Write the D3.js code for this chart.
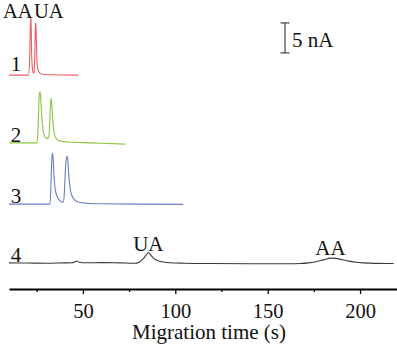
<!DOCTYPE html>
<html><head><meta charset="utf-8">
<script src="https://cdn.jsdelivr.net/npm/d3@7"></script>
<style>html,body{margin:0;padding:0;background:#fff}svg{display:block}</style>
</head><body>
<script>
// ---- data (time in s, current in nA relative to each trace's baseline) ----
const trace1 = [[10,0],[20.5,0],[21.2,3],[21.6,8.5],[21.8,9.8],[22.0,8],[22.3,3],[22.8,0.8],[23.2,0.3],[23.6,0.5],[24.0,4],[24.3,8.3],[24.5,8.7],[24.8,6],[25.1,2.5],[25.6,1],[26.5,0.4],[28,0.15],[32,0.05],[47.4,0]];
const trace2 = [[10,0],[25.2,0],[25.6,1.5],[26.0,5],[26.4,8],[26.8,8.5],[27.2,7.2],[27.7,4.5],[28.3,2.5],[29.0,1.3],[29.6,0.9],[30.5,0.75],[31.5,0.9],[32.0,3],[32.4,6],[32.8,7.45],[33.2,6.3],[33.7,3.8],[34.3,2.0],[35,1.1],[36,0.6],[38,0.3],[42,0.15],[50,0.05],[60,-0.05],[72.9,-0.2]];
const trace3 = [[10,0],[32.2,0],[32.7,3],[33.1,7],[33.5,8.5],[33.9,7.5],[34.4,4.5],[35,2.5],[36,1.3],[37.2,0.7],[38.4,0.4],[39.3,0.3],[39.9,1.5],[40.4,5],[41.0,7.6],[41.5,8.0],[41.9,7],[42.5,4.2],[43.2,2.4],[44.2,1.3],[45.5,0.7],[47.5,0.35],[52,0.15],[60,0.05],[80,0],[104.3,-0.05]];
const trace4 = [[10,0.1],[20,0.08],[30,0.05],[40,0.1],[44,0.12],[45.5,0.25],[46.7,0.42],[48,0.2],[50,0.12],[60,0.15],[70,0.1],[78,0.05],[80,0.15],[82,0.6],[84,1.3],[85.4,1.8],[86.5,1.5],[88,0.95],[90,0.55],[93,0.3],[97,0.12],[105,0.05],[120,0],[140,-0.05],[160,-0.05],[168,0],[172,0.1],[176,0.3],[180,0.6],[184,0.9],[187,0.85],[190,0.65],[194,0.4],[198,0.2],[202,0.1],[208,0.02],[215,0],[218.2,0]];
const traceOffsets = [31.4, 20.1, 9.9, 0];   // nA vertical offsets of traces 1-4
const traceNames = ["1","2","3","4"];
const traceColors = ["#ec5f5f","#8cc63f","#6d7dcc","#3a3a3a"];
const majorTicks = [50,100,150,200];
const minorTicks = [25,75,125,175];
const scaleBarValue = 5; // nA
const xDomain = [10, 220];

// ---- layout ----
const W = 397, H = 352;
const svg = d3.select("body").append("svg").attr("width", W).attr("height", H);
const x = d3.scaleLinear().domain(xDomain).range([9, 397]);
const y = d3.scaleLinear().domain([-4.25, 43.92]).range([289, 0]);
const font = "'Liberation Serif','Times New Roman',serif";

const traces = [trace1, trace2, trace3, trace4];
const line = d3.line().curve(d3.curveMonotoneX);
traces.forEach((tr, i) => {
  svg.append("path")
    .attr("d", line(tr.map(d => [x(d[0]), y(d[1] + traceOffsets[i])])))
    .attr("fill", "none").attr("stroke", traceColors[i]).attr("stroke-width", 1.1);
});

// trace numbers
const numX = [16, 16, 16, 16];
const numDy = [-4, -1, -1, -2];
traceNames.forEach((n, i) => {
  svg.append("text").attr("x", numX[i]).attr("y", y(traceOffsets[i]) + numDy[i])
    .attr("text-anchor", "middle").attr("font-family", font).attr("font-size", 21)
    .attr("fill", "#111").text(n);
});

// peak labels
const lab = (t, v, txt, anchor, dy, fs) => svg.append("text")
  .attr("x", x(t)).attr("y", y(v) + dy).attr("text-anchor", anchor)
  .attr("font-family", font).attr("font-size", fs || 21).attr("fill", "#111").text(txt);
lab(22.8, 43.92, "AA", "end", 17.5, 20.5);
lab(23.5, 43.92, "UA", "start", 17.5, 20.5);
lab(85.4, 1.8, "UA", "middle", -1.5);
lab(184, 0.9, "AA", "middle", -3);

// scale bar
const sbBase = 35.1, sbX = 285;
const g = svg.append("g").attr("stroke", "#444").attr("stroke-width", 1.2);
g.append("line").attr("x1", sbX).attr("x2", sbX).attr("y1", y(sbBase)).attr("y2", y(sbBase + scaleBarValue));
g.append("line").attr("x1", sbX - 4.5).attr("x2", sbX + 4.5).attr("y1", y(sbBase)).attr("y2", y(sbBase));
g.append("line").attr("x1", sbX - 4.5).attr("x2", sbX + 4.5).attr("y1", y(sbBase + scaleBarValue)).attr("y2", y(sbBase + scaleBarValue));
svg.append("text").attr("x", sbX + 7).attr("y", 46.5).attr("font-family", font)
  .attr("font-size", 21).attr("fill", "#111").text(scaleBarValue + " nA");

// axis
const axisY = 289;
const ax = svg.append("g").attr("transform", `translate(0,${axisY})`)
  .call(d3.axisBottom(x).tickValues(majorTicks).tickSize(5).tickSizeOuter(0).tickPadding(9));
ax.select(".domain").attr("stroke", "#000").attr("stroke-width", 2);
ax.selectAll(".tick line").attr("stroke", "#000").attr("stroke-width", 1.3);
ax.selectAll(".tick text").attr("font-family", font).attr("font-size", 20.5).attr("fill", "#111");
const axm = svg.append("g").attr("transform", `translate(0,${axisY})`)
  .call(d3.axisBottom(x).tickValues(minorTicks).tickSize(3).tickSizeOuter(0).tickFormat(""));
axm.select(".domain").remove();
axm.selectAll(".tick line").attr("stroke", "#000").attr("stroke-width", 1.3);

svg.append("text").attr("x", 209).attr("y", 339).attr("text-anchor", "middle")
  .attr("font-family", font).attr("font-size", 21).attr("fill", "#111").text("Migration time (s)");
</script>
</body></html>
